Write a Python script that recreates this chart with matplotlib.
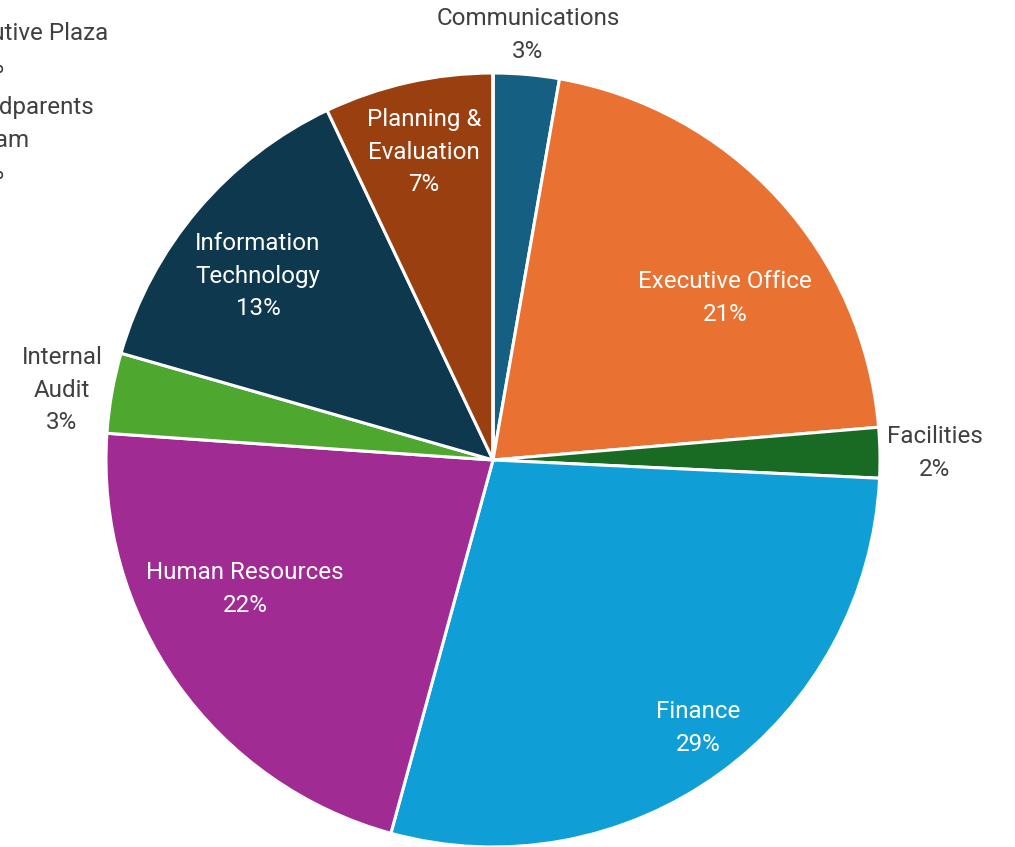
import matplotlib.pyplot as plt

plt.rcParams['font.family'] = ['Roboto', 'DejaVu Sans']

# department share of total (percent), clockwise from 12 o'clock
departments = ['Communications', 'Executive Office', 'Facilities', 'Finance',
               'Human Resources', 'Internal Audit', 'Information Technology',
               'Planning & Evaluation', 'Executive Plaza', 'Grandparents Program']
shares = [2.75, 20.9, 2.1, 28.5, 21.85, 3.35, 13.5, 7.05, 0.0, 0.0]
pct_labels = ['3%', '21%', '2%', '29%', '22%', '3%', '13%', '7%', '0%', '0%']
label_text = ['Communications', 'Executive Office', 'Facilities', 'Finance',
              'Human Resources', 'Internal\nAudit', 'Information\nTechnology',
              'Planning &\nEvaluation', 'Executive Plaza', 'Grandparents\nProgram']
colors = ['#156082', '#E97132', '#196B24', '#0F9ED5', '#A02B93', '#4EA72E',
          '#0E384E', '#9A4010', '#0E4A16', '#0A6A90']

W, H = 1015, 847
fig = plt.figure(figsize=(W / 100, H / 100), dpi=100)
ax = fig.add_axes([0, 0, 1, 1])

cx, cy, R = 493, H - 460, 387
ax.pie(shares, colors=colors, startangle=90, counterclock=False,
       radius=R, center=(cx, cy), frame=True,
       wedgeprops=dict(edgecolor='white', linewidth=2.2))
ax.set_xlim(0, W)
ax.set_ylim(0, H)
ax.axis('off')

FS = 17.4
LS = 1.53

# label anchors in pixels (x, y from top) for the non-zero slices
anchors = [(528, 35), (725, 298), (935, 453), (698, 728), (245, 589),
           (62, 390), (258, 276), (424, 152)]
inside = [False, True, False, True, True, False, True, True]

for txt, pct, (x, y), ins in zip(label_text, pct_labels, anchors, inside):
    ax.text(x, H - y, txt + '\n' + pct, ha='center', va='center',
            fontsize=FS, linespacing=LS,
            color='white' if ins else '#404040')

# zero slices: Excel pushed these labels to the top-left, partly off the chart
zero_lines = [('Executive Plaza', 108, 33), (pct_labels[8], 5, 66),
              ('Grandparents', 94, 107), ('Program', 29, 140),
              (pct_labels[9], 5, 172)]
for txt, xr, y in zero_lines:
    ax.text(xr, H - y, txt, ha='right', va='center', fontsize=FS,
            color='#404040')

fig.savefig('out.png', dpi=100)
